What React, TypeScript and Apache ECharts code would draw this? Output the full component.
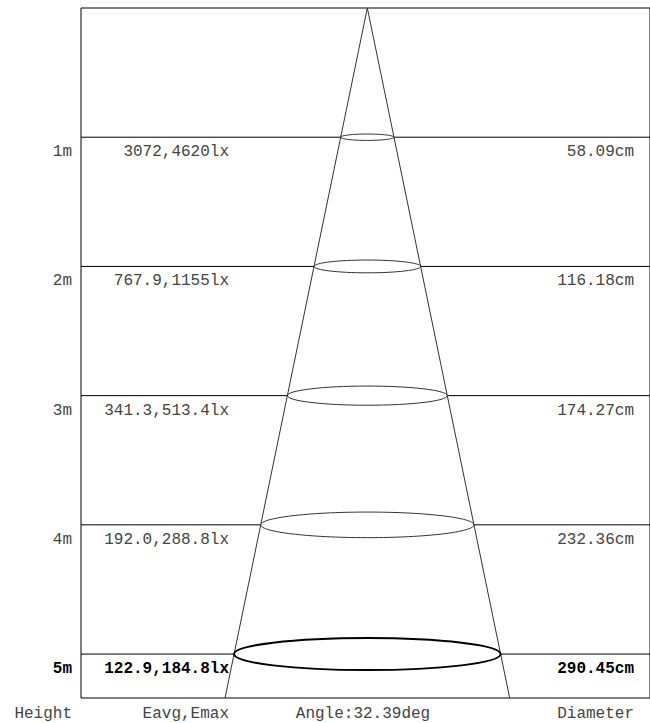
import React, { useEffect, useRef } from "react";
import * as echarts from "echarts";

// ---- data ----
const heights = [1, 2, 3, 4, 5]; // m
const heightLabels = ["1m", "2m", "3m", "4m", "5m"];
const illuminanceLabels = ["3072,4620lx", "767.9,1155lx", "341.3,513.4lx", "192.0,288.8lx", "122.9,184.8lx"];
const diameters = [58.09, 116.18, 174.27, 232.36, 290.45]; // cm
const diameterLabels = ["58.09cm", "116.18cm", "174.27cm", "232.36cm", "290.45cm"];
const beamAngle = 32.39; // deg
const footerLabels = ["Height", "Eavg,Emax", "Angle:" + beamAngle + "deg", "Diameter"];

// axis extents
const xMin = -312;
const xMax = 308;
const yMin = 0;
const yMax = 5.34;

const FONT = "'Liberation Mono', 'Courier New', monospace";

export default function App() {
  const ref = useRef<HTMLDivElement>(null);
  useEffect(() => {
    if (!ref.current) return;
    const chart = echarts.init(ref.current, null, { renderer: "svg" });
    const tanHalf = Math.tan(((beamAngle / 2) * Math.PI) / 180);
    const rBottom = tanHalf * 100 * yMax;
    const last = heights.length - 1;

    const rowData = heights.map((h, i) => [h, diameters[i]]);

    const option: any = {
      animation: false,
      backgroundColor: "#fff",
      grid: {
        left: 81,
        top: 8,
        right: -1,
        height: 690,
        show: true,
        borderColor: "#000",
        borderWidth: 1,
        backgroundColor: "transparent",
      },
      xAxis: {
        type: "value",
        min: xMin,
        max: xMax,
        axisLine: { show: false },
        axisTick: { show: false },
        axisLabel: { show: false },
        splitLine: { show: false },
      },
      yAxis: {
        type: "value",
        min: yMin,
        max: yMax,
        inverse: true,
        axisLine: { show: false },
        axisTick: { show: false },
        axisLabel: { show: false },
        splitLine: { show: false },
      },
      series: [
        {
          type: "line",
          data: [
            [-rBottom, yMax],
            [0, 0],
            [rBottom, yMax],
          ],
          symbol: "none",
          lineStyle: { color: "#333", width: 1 },
          z: 2,
          silent: true,
        },
        {
          type: "custom",
          data: rowData,
          z: 3,
          silent: true,
          renderItem: (params: any, api: any) => {
            const h = api.value(0);
            const r = api.value(1) / 2;
            const i = params.dataIndex;
            const bold = i === last;
            const c = api.coord([0, h]);
            const rx = api.size([r, 0])[0];
            const ry = rx * 0.12;
            const cs = params.coordSys;
            const textColor = bold ? "#000" : "#444";
            const fontWeight = bold ? "bold" : "normal";
            const ty = c[1] + 15;
            const textStyle = (text: string) => ({
              text,
              fill: textColor,
              font: `${fontWeight} 16px ${FONT}`,
              align: "right",
              verticalAlign: "middle",
            });
            return {
              type: "group",
              children: [
                {
                  type: "line",
                  shape: { x1: cs.x, y1: c[1], x2: c[0] - rx, y2: c[1] },
                  style: { stroke: "#000", lineWidth: 1 },
                },
                {
                  type: "line",
                  shape: { x1: c[0] + rx, y1: c[1], x2: cs.x + cs.width, y2: c[1] },
                  style: { stroke: "#000", lineWidth: 1 },
                },
                {
                  type: "ellipse",
                  shape: { cx: c[0], cy: c[1], rx, ry },
                  style: { fill: "none", stroke: bold ? "#000" : "#333", lineWidth: bold ? 2 : 1 },
                },
                { type: "text", x: cs.x - 9, y: ty, style: textStyle(heightLabels[i]) },
                { type: "text", x: 229, y: ty, style: textStyle(illuminanceLabels[i]) },
                { type: "text", x: 634, y: ty, style: textStyle(diameterLabels[i]) },
              ],
            };
          },
        },
      ],
      graphic: [
        { x: 72, align: "right" },
        { x: 229, align: "right" },
        { x: 363, align: "center" },
        { x: 634, align: "right" },
      ].map((p, i) => ({
        type: "text",
        x: p.x,
        y: 714,
        silent: true,
        style: {
          text: footerLabels[i],
          fill: "#444",
          font: `normal 16px ${FONT}`,
          align: p.align,
          verticalAlign: "middle",
        },
      })),
    };
    chart.setOption(option);
    return () => chart.dispose();
  }, []);
  return (
    <div
      ref={ref}
      style={{ position: "absolute", left: 0, top: 0, width: 650, height: 723, background: "#fff" }}
    />
  );
}
